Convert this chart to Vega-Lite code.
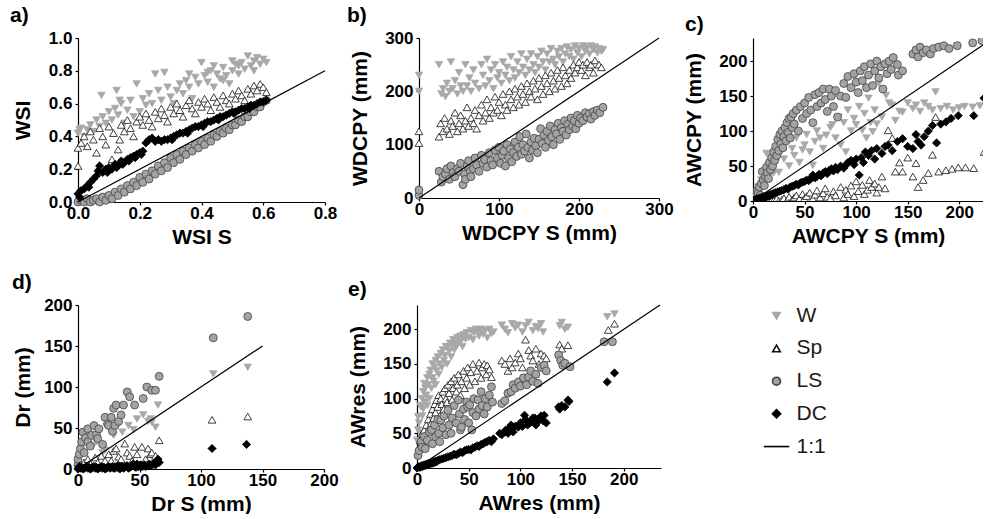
{
"$schema": "https://vega.github.io/schema/vega-lite/v6.json",
"padding": {"left": 10, "top": 5, "right": 0, "bottom": 0},
"config": {
  "view": {"stroke": null},
  "font": "Liberation Sans",
  "axis": {"grid": false, "domainColor": "#000", "domainWidth": 1.2, "tickColor": "#000", "tickWidth": 1.2, "tickSize": 3,
    "labelFont": "Liberation Sans", "labelFontSize": 17, "labelFontWeight": "bold", "labelColor": "#000",
    "titleFont": "Liberation Sans", "titleFontSize": 21, "titleFontWeight": "bold", "titleColor": "#000",
    "labelFlush": false, "labelOverlap": false, "labelBound": false},
  "axisX": {"labelPadding": 0, "titlePadding": 5},
  "axisY": {"labelPadding": 3, "titlePadding": 14},
  "title": {"font": "Liberation Sans", "fontSize": 21, "fontWeight": "bold", "anchor": "start", "frame": "group", "color": "#000", "offset": 3}
},
"datasets": {
"a": [
{"s":"W","x":0,"y":0.42},{"s":"W","x":0.005,"y":0.44},{"s":"W","x":0.01,"y":0.45},{"s":"W","x":0.02,"y":0.4},{"s":"W","x":0.03,"y":0.44},{"s":"W","x":0.04,"y":0.47},{"s":"W","x":0.05,"y":0.43},{"s":"W","x":0.06,"y":0.5},{"s":"W","x":0.07,"y":0.46},{"s":"W","x":0.076,"y":0.65},{"s":"W","x":0.08,"y":0.52},{"s":"W","x":0.09,"y":0.48},{"s":"W","x":0.1,"y":0.55},{"s":"W","x":0.11,"y":0.5},{"s":"W","x":0.12,"y":0.57},{"s":"W","x":0.125,"y":0.68},{"s":"W","x":0.13,"y":0.53},{"s":"W","x":0.135,"y":0.62},{"s":"W","x":0.14,"y":0.6},{"s":"W","x":0.15,"y":0.48},{"s":"W","x":0.16,"y":0.56},{"s":"W","x":0.17,"y":0.62},{"s":"W","x":0.18,"y":0.52},{"s":"W","x":0.19,"y":0.72},{"s":"W","x":0.2,"y":0.55},{"s":"W","x":0.21,"y":0.63},{"s":"W","x":0.22,"y":0.59},{"s":"W","x":0.23,"y":0.66},{"s":"W","x":0.24,"y":0.6},{"s":"W","x":0.25,"y":0.78},{"s":"W","x":0.26,"y":0.68},{"s":"W","x":0.27,"y":0.62},{"s":"W","x":0.28,"y":0.79},{"s":"W","x":0.29,"y":0.7},{"s":"W","x":0.3,"y":0.64},{"s":"W","x":0.31,"y":0.6},{"s":"W","x":0.32,"y":0.68},{"s":"W","x":0.33,"y":0.72},{"s":"W","x":0.34,"y":0.66},{"s":"W","x":0.35,"y":0.74},{"s":"W","x":0.36,"y":0.7},{"s":"W","x":0.36,"y":0.78},{"s":"W","x":0.37,"y":0.63},{"s":"W","x":0.38,"y":0.76},{"s":"W","x":0.39,"y":0.72},{"s":"W","x":0.4,"y":0.85},{"s":"W","x":0.41,"y":0.77},{"s":"W","x":0.42,"y":0.73},{"s":"W","x":0.42,"y":0.79},{"s":"W","x":0.43,"y":0.8},{"s":"W","x":0.44,"y":0.7},{"s":"W","x":0.44,"y":0.83},{"s":"W","x":0.45,"y":0.78},{"s":"W","x":0.46,"y":0.75},{"s":"W","x":0.47,"y":0.82},{"s":"W","x":0.47,"y":0.74},{"s":"W","x":0.48,"y":0.77},{"s":"W","x":0.49,"y":0.72},{"s":"W","x":0.5,"y":0.8},{"s":"W","x":0.5,"y":0.86},{"s":"W","x":0.51,"y":0.84},{"s":"W","x":0.52,"y":0.78},{"s":"W","x":0.52,"y":0.83},{"s":"W","x":0.53,"y":0.85},{"s":"W","x":0.54,"y":0.81},{"s":"W","x":0.55,"y":0.89},{"s":"W","x":0.56,"y":0.83},{"s":"W","x":0.57,"y":0.86},{"s":"W","x":0.57,"y":0.8},{"s":"W","x":0.58,"y":0.88},{"s":"W","x":0.59,"y":0.84},{"s":"W","x":0.6,"y":0.87},{"s":"W","x":0.61,"y":0.85},
{"s":"Sp","x":0,"y":0.22},{"s":"Sp","x":0,"y":0.33},{"s":"Sp","x":0.01,"y":0.36},{"s":"Sp","x":0.02,"y":0.4},{"s":"Sp","x":0.03,"y":0.34},{"s":"Sp","x":0.04,"y":0.43},{"s":"Sp","x":0.05,"y":0.38},{"s":"Sp","x":0.06,"y":0.3},{"s":"Sp","x":0.07,"y":0.45},{"s":"Sp","x":0.08,"y":0.4},{"s":"Sp","x":0.09,"y":0.35},{"s":"Sp","x":0.1,"y":0.46},{"s":"Sp","x":0.11,"y":0.26},{"s":"Sp","x":0.115,"y":0.42},{"s":"Sp","x":0.13,"y":0.32},{"s":"Sp","x":0.135,"y":0.38},{"s":"Sp","x":0.14,"y":0.47},{"s":"Sp","x":0.15,"y":0.43},{"s":"Sp","x":0.16,"y":0.5},{"s":"Sp","x":0.17,"y":0.45},{"s":"Sp","x":0.18,"y":0.4},{"s":"Sp","x":0.19,"y":0.49},{"s":"Sp","x":0.2,"y":0.52},{"s":"Sp","x":0.21,"y":0.47},{"s":"Sp","x":0.22,"y":0.54},{"s":"Sp","x":0.23,"y":0.5},{"s":"Sp","x":0.24,"y":0.46},{"s":"Sp","x":0.25,"y":0.55},{"s":"Sp","x":0.26,"y":0.51},{"s":"Sp","x":0.27,"y":0.57},{"s":"Sp","x":0.28,"y":0.53},{"s":"Sp","x":0.29,"y":0.49},{"s":"Sp","x":0.3,"y":0.58},{"s":"Sp","x":0.31,"y":0.54},{"s":"Sp","x":0.32,"y":0.6},{"s":"Sp","x":0.33,"y":0.56},{"s":"Sp","x":0.34,"y":0.52},{"s":"Sp","x":0.35,"y":0.59},{"s":"Sp","x":0.36,"y":0.62},{"s":"Sp","x":0.37,"y":0.57},{"s":"Sp","x":0.38,"y":0.54},{"s":"Sp","x":0.39,"y":0.61},{"s":"Sp","x":0.4,"y":0.58},{"s":"Sp","x":0.41,"y":0.63},{"s":"Sp","x":0.42,"y":0.6},{"s":"Sp","x":0.43,"y":0.56},{"s":"Sp","x":0.44,"y":0.64},{"s":"Sp","x":0.45,"y":0.61},{"s":"Sp","x":0.46,"y":0.58},{"s":"Sp","x":0.47,"y":0.65},{"s":"Sp","x":0.48,"y":0.62},{"s":"Sp","x":0.49,"y":0.6},{"s":"Sp","x":0.5,"y":0.66},{"s":"Sp","x":0.51,"y":0.63},{"s":"Sp","x":0.52,"y":0.68},{"s":"Sp","x":0.53,"y":0.65},{"s":"Sp","x":0.54,"y":0.62},{"s":"Sp","x":0.55,"y":0.69},{"s":"Sp","x":0.56,"y":0.66},{"s":"Sp","x":0.57,"y":0.71},{"s":"Sp","x":0.58,"y":0.68},{"s":"Sp","x":0.59,"y":0.72},{"s":"Sp","x":0.6,"y":0.7},{"s":"Sp","x":0.61,"y":0.67},
{"s":"LS","x":0,"y":0},{"s":"LS","x":0.01,"y":0.01},{"s":"LS","x":0.02,"y":0},{"s":"LS","x":0.03,"y":0.02},{"s":"LS","x":0.04,"y":0},{"s":"LS","x":0.05,"y":0.01},{"s":"LS","x":0.06,"y":0.02},{"s":"LS","x":0.07,"y":0},{"s":"LS","x":0.08,"y":0.03},{"s":"LS","x":0.09,"y":0.01},{"s":"LS","x":0.1,"y":0.04},{"s":"LS","x":0.11,"y":0.02},{"s":"LS","x":0.12,"y":0.06},{"s":"LS","x":0.13,"y":0.04},{"s":"LS","x":0.14,"y":0.08},{"s":"LS","x":0.15,"y":0.06},{"s":"LS","x":0.16,"y":0.1},{"s":"LS","x":0.17,"y":0.08},{"s":"LS","x":0.18,"y":0.12},{"s":"LS","x":0.19,"y":0.1},{"s":"LS","x":0.2,"y":0.15},{"s":"LS","x":0.21,"y":0.12},{"s":"LS","x":0.22,"y":0.17},{"s":"LS","x":0.23,"y":0.14},{"s":"LS","x":0.24,"y":0.19},{"s":"LS","x":0.25,"y":0.17},{"s":"LS","x":0.26,"y":0.22},{"s":"LS","x":0.27,"y":0.19},{"s":"LS","x":0.28,"y":0.24},{"s":"LS","x":0.29,"y":0.21},{"s":"LS","x":0.3,"y":0.27},{"s":"LS","x":0.31,"y":0.24},{"s":"LS","x":0.32,"y":0.29},{"s":"LS","x":0.33,"y":0.26},{"s":"LS","x":0.34,"y":0.31},{"s":"LS","x":0.35,"y":0.29},{"s":"LS","x":0.36,"y":0.33},{"s":"LS","x":0.37,"y":0.31},{"s":"LS","x":0.38,"y":0.35},{"s":"LS","x":0.39,"y":0.33},{"s":"LS","x":0.4,"y":0.37},{"s":"LS","x":0.41,"y":0.35},{"s":"LS","x":0.42,"y":0.39},{"s":"LS","x":0.43,"y":0.37},{"s":"LS","x":0.44,"y":0.41},{"s":"LS","x":0.45,"y":0.4},{"s":"LS","x":0.46,"y":0.43},{"s":"LS","x":0.47,"y":0.42},{"s":"LS","x":0.48,"y":0.45},{"s":"LS","x":0.49,"y":0.44},{"s":"LS","x":0.5,"y":0.47},{"s":"LS","x":0.51,"y":0.47},{"s":"LS","x":0.52,"y":0.5},{"s":"LS","x":0.53,"y":0.49},{"s":"LS","x":0.54,"y":0.52},{"s":"LS","x":0.55,"y":0.52},{"s":"LS","x":0.56,"y":0.55},{"s":"LS","x":0.57,"y":0.55},{"s":"LS","x":0.58,"y":0.58},{"s":"LS","x":0.59,"y":0.58},{"s":"LS","x":0.6,"y":0.61},{"s":"LS","x":0.61,"y":0.62},
{"s":"DC","x":0,"y":0.05},{"s":"DC","x":0.005,"y":0.03},{"s":"DC","x":0.01,"y":0.07},{"s":"DC","x":0.02,"y":0.08},{"s":"DC","x":0.03,"y":0.1},{"s":"DC","x":0.035,"y":0.09},{"s":"DC","x":0.04,"y":0.12},{"s":"DC","x":0.05,"y":0.14},{"s":"DC","x":0.06,"y":0.16},{"s":"DC","x":0.065,"y":0.19},{"s":"DC","x":0.07,"y":0.22},{"s":"DC","x":0.08,"y":0.18},{"s":"DC","x":0.09,"y":0.2},{"s":"DC","x":0.095,"y":0.18},{"s":"DC","x":0.1,"y":0.21},{"s":"DC","x":0.11,"y":0.2},{"s":"DC","x":0.12,"y":0.23},{"s":"DC","x":0.125,"y":0.21},{"s":"DC","x":0.13,"y":0.22},{"s":"DC","x":0.14,"y":0.25},{"s":"DC","x":0.145,"y":0.23},{"s":"DC","x":0.15,"y":0.24},{"s":"DC","x":0.16,"y":0.26},{"s":"DC","x":0.165,"y":0.25},{"s":"DC","x":0.17,"y":0.27},{"s":"DC","x":0.18,"y":0.28},{"s":"DC","x":0.185,"y":0.27},{"s":"DC","x":0.19,"y":0.29},{"s":"DC","x":0.2,"y":0.3},{"s":"DC","x":0.205,"y":0.29},{"s":"DC","x":0.21,"y":0.31},{"s":"DC","x":0.22,"y":0.36},{"s":"DC","x":0.23,"y":0.38},{"s":"DC","x":0.24,"y":0.39},{"s":"DC","x":0.25,"y":0.37},{"s":"DC","x":0.26,"y":0.38},{"s":"DC","x":0.27,"y":0.37},{"s":"DC","x":0.28,"y":0.38},{"s":"DC","x":0.29,"y":0.38},{"s":"DC","x":0.3,"y":0.39},{"s":"DC","x":0.305,"y":0.38},{"s":"DC","x":0.31,"y":0.4},{"s":"DC","x":0.32,"y":0.41},{"s":"DC","x":0.33,"y":0.42},{"s":"DC","x":0.34,"y":0.42},{"s":"DC","x":0.35,"y":0.43},{"s":"DC","x":0.355,"y":0.42},{"s":"DC","x":0.36,"y":0.44},{"s":"DC","x":0.37,"y":0.45},{"s":"DC","x":0.38,"y":0.46},{"s":"DC","x":0.39,"y":0.46},{"s":"DC","x":0.4,"y":0.47},{"s":"DC","x":0.405,"y":0.46},{"s":"DC","x":0.41,"y":0.48},{"s":"DC","x":0.42,"y":0.49},{"s":"DC","x":0.43,"y":0.49},{"s":"DC","x":0.44,"y":0.5},{"s":"DC","x":0.45,"y":0.51},{"s":"DC","x":0.455,"y":0.5},{"s":"DC","x":0.46,"y":0.52},{"s":"DC","x":0.47,"y":0.52},{"s":"DC","x":0.48,"y":0.53},{"s":"DC","x":0.49,"y":0.54},{"s":"DC","x":0.5,"y":0.55},{"s":"DC","x":0.505,"y":0.54},{"s":"DC","x":0.51,"y":0.55},{"s":"DC","x":0.52,"y":0.56},{"s":"DC","x":0.53,"y":0.57},{"s":"DC","x":0.54,"y":0.57},{"s":"DC","x":0.55,"y":0.58},{"s":"DC","x":0.555,"y":0.57},{"s":"DC","x":0.56,"y":0.59},{"s":"DC","x":0.57,"y":0.59},{"s":"DC","x":0.58,"y":0.6},{"s":"DC","x":0.59,"y":0.61},{"s":"DC","x":0.6,"y":0.61},{"s":"DC","x":0.61,"y":0.62}
],
"b": [
{"s":"W","x":0,"y":200},{"s":"W","x":0,"y":230},{"s":"W","x":25,"y":250},{"s":"W","x":28,"y":195},{"s":"W","x":30,"y":205},{"s":"W","x":33,"y":190},{"s":"W","x":35,"y":215},{"s":"W","x":38,"y":200},{"s":"W","x":40,"y":255},{"s":"W","x":42,"y":205},{"s":"W","x":45,"y":220},{"s":"W","x":48,"y":195},{"s":"W","x":50,"y":235},{"s":"W","x":52,"y":210},{"s":"W","x":55,"y":200},{"s":"W","x":58,"y":250},{"s":"W","x":60,"y":210},{"s":"W","x":63,"y":225},{"s":"W","x":65,"y":200},{"s":"W","x":68,"y":240},{"s":"W","x":70,"y":215},{"s":"W","x":75,"y":205},{"s":"W","x":78,"y":250},{"s":"W","x":80,"y":230},{"s":"W","x":83,"y":210},{"s":"W","x":85,"y":260},{"s":"W","x":88,"y":220},{"s":"W","x":90,"y":240},{"s":"W","x":93,"y":205},{"s":"W","x":95,"y":250},{"s":"W","x":98,"y":225},{"s":"W","x":100,"y":235},{"s":"W","x":103,"y":215},{"s":"W","x":105,"y":255},{"s":"W","x":108,"y":230},{"s":"W","x":110,"y":245},{"s":"W","x":113,"y":220},{"s":"W","x":115,"y":265},{"s":"W","x":118,"y":240},{"s":"W","x":120,"y":225},{"s":"W","x":123,"y":255},{"s":"W","x":125,"y":235},{"s":"W","x":128,"y":270},{"s":"W","x":130,"y":245},{"s":"W","x":133,"y":230},{"s":"W","x":135,"y":260},{"s":"W","x":138,"y":240},{"s":"W","x":140,"y":270},{"s":"W","x":143,"y":250},{"s":"W","x":145,"y":235},{"s":"W","x":148,"y":265},{"s":"W","x":150,"y":245},{"s":"W","x":153,"y":275},{"s":"W","x":155,"y":255},{"s":"W","x":158,"y":240},{"s":"W","x":160,"y":270},{"s":"W","x":163,"y":255},{"s":"W","x":165,"y":280},{"s":"W","x":168,"y":260},{"s":"W","x":170,"y":250},{"s":"W","x":173,"y":275},{"s":"W","x":175,"y":265},{"s":"W","x":178,"y":280},{"s":"W","x":180,"y":255},{"s":"W","x":183,"y":270},{"s":"W","x":185,"y":283},{"s":"W","x":188,"y":265},{"s":"W","x":190,"y":278},{"s":"W","x":193,"y":260},{"s":"W","x":195,"y":285},{"s":"W","x":198,"y":272},{"s":"W","x":200,"y":280},{"s":"W","x":203,"y":265},{"s":"W","x":205,"y":285},{"s":"W","x":208,"y":275},{"s":"W","x":210,"y":282},{"s":"W","x":213,"y":270},{"s":"W","x":215,"y":285},{"s":"W","x":218,"y":278},{"s":"W","x":220,"y":283},{"s":"W","x":223,"y":272},{"s":"W","x":225,"y":280},{"s":"W","x":228,"y":275},{"s":"W","x":230,"y":278},
{"s":"Sp","x":0,"y":103},{"s":"Sp","x":0,"y":125},{"s":"Sp","x":25,"y":115},{"s":"Sp","x":27,"y":140},{"s":"Sp","x":30,"y":125},{"s":"Sp","x":32,"y":150},{"s":"Sp","x":35,"y":130},{"s":"Sp","x":38,"y":120},{"s":"Sp","x":40,"y":145},{"s":"Sp","x":42,"y":135},{"s":"Sp","x":45,"y":160},{"s":"Sp","x":48,"y":125},{"s":"Sp","x":50,"y":140},{"s":"Sp","x":52,"y":155},{"s":"Sp","x":55,"y":130},{"s":"Sp","x":58,"y":145},{"s":"Sp","x":60,"y":170},{"s":"Sp","x":62,"y":135},{"s":"Sp","x":65,"y":150},{"s":"Sp","x":68,"y":140},{"s":"Sp","x":70,"y":165},{"s":"Sp","x":72,"y":130},{"s":"Sp","x":75,"y":155},{"s":"Sp","x":78,"y":175},{"s":"Sp","x":80,"y":145},{"s":"Sp","x":83,"y":160},{"s":"Sp","x":85,"y":185},{"s":"Sp","x":88,"y":150},{"s":"Sp","x":90,"y":170},{"s":"Sp","x":93,"y":160},{"s":"Sp","x":95,"y":190},{"s":"Sp","x":98,"y":165},{"s":"Sp","x":100,"y":180},{"s":"Sp","x":103,"y":155},{"s":"Sp","x":105,"y":195},{"s":"Sp","x":108,"y":175},{"s":"Sp","x":110,"y":165},{"s":"Sp","x":113,"y":200},{"s":"Sp","x":115,"y":185},{"s":"Sp","x":118,"y":170},{"s":"Sp","x":120,"y":205},{"s":"Sp","x":123,"y":190},{"s":"Sp","x":125,"y":175},{"s":"Sp","x":128,"y":210},{"s":"Sp","x":130,"y":195},{"s":"Sp","x":133,"y":180},{"s":"Sp","x":135,"y":215},{"s":"Sp","x":138,"y":200},{"s":"Sp","x":140,"y":190},{"s":"Sp","x":143,"y":220},{"s":"Sp","x":145,"y":205},{"s":"Sp","x":148,"y":185},{"s":"Sp","x":150,"y":225},{"s":"Sp","x":153,"y":210},{"s":"Sp","x":155,"y":195},{"s":"Sp","x":158,"y":230},{"s":"Sp","x":160,"y":215},{"s":"Sp","x":163,"y":200},{"s":"Sp","x":165,"y":235},{"s":"Sp","x":168,"y":220},{"s":"Sp","x":170,"y":205},{"s":"Sp","x":173,"y":240},{"s":"Sp","x":175,"y":225},{"s":"Sp","x":178,"y":210},{"s":"Sp","x":180,"y":245},{"s":"Sp","x":183,"y":230},{"s":"Sp","x":185,"y":215},{"s":"Sp","x":188,"y":240},{"s":"Sp","x":190,"y":225},{"s":"Sp","x":193,"y":250},{"s":"Sp","x":195,"y":235},{"s":"Sp","x":198,"y":245},{"s":"Sp","x":200,"y":255},{"s":"Sp","x":203,"y":240},{"s":"Sp","x":205,"y":250},{"s":"Sp","x":208,"y":230},{"s":"Sp","x":210,"y":255},{"s":"Sp","x":213,"y":245},{"s":"Sp","x":215,"y":250},{"s":"Sp","x":218,"y":235},{"s":"Sp","x":220,"y":258},{"s":"Sp","x":225,"y":250},{"s":"Sp","x":228,"y":245},
{"s":"LS","x":0,"y":5},{"s":"LS","x":0,"y":15},{"s":"LS","x":25,"y":50},{"s":"LS","x":28,"y":30},{"s":"LS","x":30,"y":40},{"s":"LS","x":33,"y":45},{"s":"LS","x":35,"y":55},{"s":"LS","x":38,"y":35},{"s":"LS","x":40,"y":60},{"s":"LS","x":43,"y":48},{"s":"LS","x":45,"y":40},{"s":"LS","x":48,"y":55},{"s":"LS","x":50,"y":50},{"s":"LS","x":52,"y":65},{"s":"LS","x":55,"y":25},{"s":"LS","x":57,"y":45},{"s":"LS","x":58,"y":35},{"s":"LS","x":60,"y":60},{"s":"LS","x":62,"y":70},{"s":"LS","x":64,"y":50},{"s":"LS","x":65,"y":40},{"s":"LS","x":68,"y":55},{"s":"LS","x":70,"y":75},{"s":"LS","x":72,"y":62},{"s":"LS","x":75,"y":50},{"s":"LS","x":78,"y":80},{"s":"LS","x":80,"y":65},{"s":"LS","x":82,"y":72},{"s":"LS","x":85,"y":58},{"s":"LS","x":88,"y":85},{"s":"LS","x":90,"y":70},{"s":"LS","x":92,"y":62},{"s":"LS","x":95,"y":90},{"s":"LS","x":98,"y":75},{"s":"LS","x":100,"y":95},{"s":"LS","x":102,"y":65},{"s":"LS","x":104,"y":80},{"s":"LS","x":106,"y":88},{"s":"LS","x":108,"y":60},{"s":"LS","x":110,"y":100},{"s":"LS","x":112,"y":75},{"s":"LS","x":114,"y":92},{"s":"LS","x":116,"y":68},{"s":"LS","x":118,"y":85},{"s":"LS","x":120,"y":105},{"s":"LS","x":122,"y":78},{"s":"LS","x":124,"y":95},{"s":"LS","x":126,"y":115},{"s":"LS","x":128,"y":82},{"s":"LS","x":130,"y":100},{"s":"LS","x":132,"y":88},{"s":"LS","x":134,"y":120},{"s":"LS","x":136,"y":95},{"s":"LS","x":138,"y":75},{"s":"LS","x":140,"y":105},{"s":"LS","x":142,"y":90},{"s":"LS","x":144,"y":112},{"s":"LS","x":146,"y":98},{"s":"LS","x":148,"y":85},{"s":"LS","x":150,"y":110},{"s":"LS","x":152,"y":130},{"s":"LS","x":154,"y":102},{"s":"LS","x":156,"y":118},{"s":"LS","x":158,"y":95},{"s":"LS","x":160,"y":125},{"s":"LS","x":162,"y":108},{"s":"LS","x":164,"y":135},{"s":"LS","x":166,"y":115},{"s":"LS","x":168,"y":100},{"s":"LS","x":170,"y":128},{"s":"LS","x":172,"y":120},{"s":"LS","x":174,"y":140},{"s":"LS","x":176,"y":110},{"s":"LS","x":178,"y":132},{"s":"LS","x":180,"y":125},{"s":"LS","x":182,"y":145},{"s":"LS","x":184,"y":118},{"s":"LS","x":186,"y":138},{"s":"LS","x":188,"y":128},{"s":"LS","x":190,"y":150},{"s":"LS","x":192,"y":135},{"s":"LS","x":194,"y":145},{"s":"LS","x":196,"y":130},{"s":"LS","x":198,"y":155},{"s":"LS","x":200,"y":140},{"s":"LS","x":202,"y":150},{"s":"LS","x":205,"y":145},{"s":"LS","x":208,"y":160},{"s":"LS","x":210,"y":152},{"s":"LS","x":213,"y":158},{"s":"LS","x":215,"y":148},{"s":"LS","x":218,"y":162},{"s":"LS","x":220,"y":155},{"s":"LS","x":223,"y":165},{"s":"LS","x":226,"y":160},{"s":"LS","x":230,"y":170}
],
"c": [
{"s":"W","x":3,"y":10},{"s":"W","x":5,"y":20},{"s":"W","x":7,"y":15},{"s":"W","x":8,"y":30},{"s":"W","x":10,"y":25},{"s":"W","x":12,"y":40},{"s":"W","x":13,"y":68},{"s":"W","x":14,"y":35},{"s":"W","x":15,"y":50},{"s":"W","x":17,"y":45},{"s":"W","x":18,"y":60},{"s":"W","x":20,"y":40},{"s":"W","x":22,"y":55},{"s":"W","x":24,"y":65},{"s":"W","x":25,"y":41},{"s":"W","x":27,"y":70},{"s":"W","x":30,"y":60},{"s":"W","x":32,"y":85},{"s":"W","x":35,"y":50},{"s":"W","x":38,"y":75},{"s":"W","x":40,"y":65},{"s":"W","x":42,"y":90},{"s":"W","x":45,"y":55},{"s":"W","x":48,"y":73},{"s":"W","x":50,"y":80},{"s":"W","x":52,"y":95},{"s":"W","x":55,"y":70},{"s":"W","x":58,"y":51},{"s":"W","x":60,"y":85},{"s":"W","x":62,"y":100},{"s":"W","x":65,"y":90},{"s":"W","x":68,"y":75},{"s":"W","x":71,"y":94},{"s":"W","x":75,"y":105},{"s":"W","x":77,"y":109},{"s":"W","x":80,"y":90},{"s":"W","x":83,"y":120},{"s":"W","x":85,"y":80},{"s":"W","x":88,"y":112},{"s":"W","x":90,"y":70},{"s":"W","x":92,"y":130},{"s":"W","x":95,"y":100},{"s":"W","x":98,"y":118},{"s":"W","x":100,"y":109},{"s":"W","x":103,"y":135},{"s":"W","x":106,"y":101},{"s":"W","x":108,"y":125},{"s":"W","x":110,"y":90},{"s":"W","x":112,"y":147},{"s":"W","x":114,"y":112},{"s":"W","x":116,"y":99},{"s":"W","x":118,"y":130},{"s":"W","x":120,"y":110},{"s":"W","x":122,"y":168},{"s":"W","x":125,"y":120},{"s":"W","x":129,"y":151},{"s":"W","x":132,"y":140},{"s":"W","x":135,"y":137},{"s":"W","x":138,"y":115},{"s":"W","x":142,"y":128},{"s":"W","x":145,"y":127},{"s":"W","x":150,"y":140},{"s":"W","x":155,"y":132},{"s":"W","x":158,"y":137},{"s":"W","x":162,"y":128},{"s":"W","x":166,"y":140},{"s":"W","x":170,"y":135},{"s":"W","x":174,"y":130},{"s":"W","x":177,"y":156},{"s":"W","x":182,"y":132},{"s":"W","x":188,"y":135},{"s":"W","x":194,"y":130},{"s":"W","x":200,"y":133},{"s":"W","x":205,"y":135},{"s":"W","x":213,"y":134},{"s":"W","x":220,"y":136},
{"s":"Sp","x":5,"y":0},{"s":"Sp","x":10,"y":1},{"s":"Sp","x":15,"y":0},{"s":"Sp","x":18,"y":2},{"s":"Sp","x":20,"y":1},{"s":"Sp","x":23,"y":3},{"s":"Sp","x":25,"y":0},{"s":"Sp","x":28,"y":2},{"s":"Sp","x":30,"y":4},{"s":"Sp","x":33,"y":1},{"s":"Sp","x":35,"y":6},{"s":"Sp","x":38,"y":2},{"s":"Sp","x":40,"y":5},{"s":"Sp","x":42,"y":8},{"s":"Sp","x":45,"y":3},{"s":"Sp","x":48,"y":10},{"s":"Sp","x":50,"y":4},{"s":"Sp","x":52,"y":7},{"s":"Sp","x":55,"y":12},{"s":"Sp","x":58,"y":3},{"s":"Sp","x":60,"y":9},{"s":"Sp","x":62,"y":15},{"s":"Sp","x":65,"y":5},{"s":"Sp","x":68,"y":11},{"s":"Sp","x":70,"y":18},{"s":"Sp","x":72,"y":6},{"s":"Sp","x":75,"y":4},{"s":"Sp","x":78,"y":14},{"s":"Sp","x":80,"y":8},{"s":"Sp","x":85,"y":20},{"s":"Sp","x":88,"y":5},{"s":"Sp","x":90,"y":16},{"s":"Sp","x":92,"y":10},{"s":"Sp","x":95,"y":22},{"s":"Sp","x":98,"y":7},{"s":"Sp","x":100,"y":28},{"s":"Sp","x":102,"y":14},{"s":"Sp","x":106,"y":23},{"s":"Sp","x":108,"y":10},{"s":"Sp","x":111,"y":16},{"s":"Sp","x":113,"y":30},{"s":"Sp","x":115,"y":20},{"s":"Sp","x":118,"y":25},{"s":"Sp","x":120,"y":12},{"s":"Sp","x":122,"y":20},{"s":"Sp","x":125,"y":35},{"s":"Sp","x":128,"y":18},{"s":"Sp","x":131,"y":101},{"s":"Sp","x":135,"y":90},{"s":"Sp","x":138,"y":42},{"s":"Sp","x":142,"y":55},{"s":"Sp","x":145,"y":42},{"s":"Sp","x":150,"y":62},{"s":"Sp","x":155,"y":35},{"s":"Sp","x":158,"y":54},{"s":"Sp","x":160,"y":20},{"s":"Sp","x":165,"y":30},{"s":"Sp","x":170,"y":40},{"s":"Sp","x":174,"y":66},{"s":"Sp","x":177,"y":120},{"s":"Sp","x":180,"y":42},{"s":"Sp","x":187,"y":44},{"s":"Sp","x":193,"y":46},{"s":"Sp","x":199,"y":48},{"s":"Sp","x":206,"y":48},{"s":"Sp","x":214,"y":47},{"s":"Sp","x":224,"y":70},
{"s":"LS","x":0,"y":2},{"s":"LS","x":1,"y":5},{"s":"LS","x":2,"y":10},{"s":"LS","x":3,"y":6},{"s":"LS","x":4,"y":15},{"s":"LS","x":5,"y":12},{"s":"LS","x":6,"y":20},{"s":"LS","x":7,"y":8},{"s":"LS","x":8,"y":25},{"s":"LS","x":9,"y":42},{"s":"LS","x":10,"y":30},{"s":"LS","x":11,"y":22},{"s":"LS","x":12,"y":35},{"s":"LS","x":13,"y":48},{"s":"LS","x":14,"y":40},{"s":"LS","x":15,"y":32},{"s":"LS","x":16,"y":55},{"s":"LS","x":17,"y":45},{"s":"LS","x":18,"y":62},{"s":"LS","x":19,"y":50},{"s":"LS","x":20,"y":70},{"s":"LS","x":21,"y":58},{"s":"LS","x":22,"y":78},{"s":"LS","x":23,"y":65},{"s":"LS","x":24,"y":88},{"s":"LS","x":25,"y":72},{"s":"LS","x":26,"y":95},{"s":"LS","x":27,"y":82},{"s":"LS","x":28,"y":100},{"s":"LS","x":29,"y":76},{"s":"LS","x":30,"y":92},{"s":"LS","x":31,"y":105},{"s":"LS","x":32,"y":86},{"s":"LS","x":33,"y":112},{"s":"LS","x":34,"y":98},{"s":"LS","x":35,"y":118},{"s":"LS","x":36,"y":90},{"s":"LS","x":37,"y":120},{"s":"LS","x":38,"y":105},{"s":"LS","x":39,"y":125},{"s":"LS","x":40,"y":110},{"s":"LS","x":42,"y":130},{"s":"LS","x":44,"y":100},{"s":"LS","x":46,"y":135},{"s":"LS","x":48,"y":118},{"s":"LS","x":50,"y":140},{"s":"LS","x":52,"y":125},{"s":"LS","x":54,"y":148},{"s":"LS","x":56,"y":130},{"s":"LS","x":58,"y":112},{"s":"LS","x":60,"y":152},{"s":"LS","x":62,"y":135},{"s":"LS","x":64,"y":155},{"s":"LS","x":66,"y":140},{"s":"LS","x":68,"y":160},{"s":"LS","x":70,"y":145},{"s":"LS","x":72,"y":128},{"s":"LS","x":74,"y":160},{"s":"LS","x":76,"y":150},{"s":"LS","x":78,"y":135},{"s":"LS","x":80,"y":158},{"s":"LS","x":82,"y":120},{"s":"LS","x":85,"y":150},{"s":"LS","x":88,"y":168},{"s":"LS","x":90,"y":148},{"s":"LS","x":92,"y":178},{"s":"LS","x":95,"y":162},{"s":"LS","x":98,"y":182},{"s":"LS","x":100,"y":170},{"s":"LS","x":102,"y":155},{"s":"LS","x":104,"y":186},{"s":"LS","x":106,"y":172},{"s":"LS","x":108,"y":192},{"s":"LS","x":110,"y":162},{"s":"LS","x":112,"y":180},{"s":"LS","x":114,"y":196},{"s":"LS","x":116,"y":165},{"s":"LS","x":118,"y":186},{"s":"LS","x":120,"y":200},{"s":"LS","x":122,"y":176},{"s":"LS","x":124,"y":192},{"s":"LS","x":126,"y":160},{"s":"LS","x":128,"y":196},{"s":"LS","x":130,"y":182},{"s":"LS","x":132,"y":200},{"s":"LS","x":134,"y":188},{"s":"LS","x":136,"y":205},{"s":"LS","x":140,"y":195},{"s":"LS","x":141,"y":180},{"s":"LS","x":145,"y":186},{"s":"LS","x":155,"y":210},{"s":"LS","x":158,"y":216},{"s":"LS","x":160,"y":206},{"s":"LS","x":162,"y":220},{"s":"LS","x":165,"y":212},{"s":"LS","x":168,"y":216},{"s":"LS","x":172,"y":210},{"s":"LS","x":175,"y":218},{"s":"LS","x":180,"y":220},{"s":"LS","x":185,"y":222},{"s":"LS","x":190,"y":218},{"s":"LS","x":198,"y":222},{"s":"LS","x":213,"y":226},{"s":"LS","x":222,"y":229},
{"s":"DC","x":0,"y":0},{"s":"DC","x":1,"y":1},{"s":"DC","x":2,"y":2},{"s":"DC","x":3,"y":1},{"s":"DC","x":4,"y":3},{"s":"DC","x":5,"y":2},{"s":"DC","x":6,"y":4},{"s":"DC","x":7,"y":3},{"s":"DC","x":8,"y":5},{"s":"DC","x":9,"y":4},{"s":"DC","x":10,"y":6},{"s":"DC","x":11,"y":5},{"s":"DC","x":12,"y":7},{"s":"DC","x":13,"y":6},{"s":"DC","x":14,"y":8},{"s":"DC","x":15,"y":7},{"s":"DC","x":16,"y":9},{"s":"DC","x":17,"y":8},{"s":"DC","x":18,"y":10},{"s":"DC","x":19,"y":9},{"s":"DC","x":20,"y":11},{"s":"DC","x":22,"y":12},{"s":"DC","x":24,"y":13},{"s":"DC","x":26,"y":14},{"s":"DC","x":28,"y":15},{"s":"DC","x":30,"y":16},{"s":"DC","x":32,"y":18},{"s":"DC","x":34,"y":17},{"s":"DC","x":36,"y":20},{"s":"DC","x":38,"y":21},{"s":"DC","x":40,"y":22},{"s":"DC","x":42,"y":24},{"s":"DC","x":44,"y":23},{"s":"DC","x":46,"y":26},{"s":"DC","x":48,"y":27},{"s":"DC","x":50,"y":28},{"s":"DC","x":52,"y":30},{"s":"DC","x":54,"y":29},{"s":"DC","x":56,"y":32},{"s":"DC","x":58,"y":37},{"s":"DC","x":60,"y":33},{"s":"DC","x":62,"y":35},{"s":"DC","x":64,"y":38},{"s":"DC","x":66,"y":36},{"s":"DC","x":68,"y":40},{"s":"DC","x":70,"y":42},{"s":"DC","x":72,"y":39},{"s":"DC","x":74,"y":44},{"s":"DC","x":76,"y":46},{"s":"DC","x":78,"y":43},{"s":"DC","x":80,"y":48},{"s":"DC","x":82,"y":45},{"s":"DC","x":85,"y":50},{"s":"DC","x":88,"y":47},{"s":"DC","x":90,"y":51},{"s":"DC","x":92,"y":55},{"s":"DC","x":95,"y":58},{"s":"DC","x":98,"y":52},{"s":"DC","x":100,"y":60},{"s":"DC","x":103,"y":37},{"s":"DC","x":105,"y":62},{"s":"DC","x":107,"y":55},{"s":"DC","x":109,"y":70},{"s":"DC","x":112,"y":65},{"s":"DC","x":115,"y":72},{"s":"DC","x":118,"y":60},{"s":"DC","x":120,"y":75},{"s":"DC","x":125,"y":68},{"s":"DC","x":128,"y":78},{"s":"DC","x":131,"y":80},{"s":"DC","x":135,"y":72},{"s":"DC","x":140,"y":85},{"s":"DC","x":145,"y":89},{"s":"DC","x":150,"y":78},{"s":"DC","x":155,"y":75},{"s":"DC","x":158,"y":95},{"s":"DC","x":160,"y":85},{"s":"DC","x":163,"y":80},{"s":"DC","x":166,"y":92},{"s":"DC","x":170,"y":100},{"s":"DC","x":174,"y":108},{"s":"DC","x":178,"y":83},{"s":"DC","x":182,"y":110},{"s":"DC","x":187,"y":113},{"s":"DC","x":192,"y":118},{"s":"DC","x":199,"y":122},{"s":"DC","x":214,"y":122},{"s":"DC","x":224,"y":147}
],
"d": [
{"s":"W","x":12,"y":28},{"s":"W","x":15,"y":33},{"s":"W","x":20,"y":20},{"s":"W","x":22,"y":23},{"s":"W","x":26,"y":49},{"s":"W","x":29,"y":41},{"s":"W","x":33,"y":55},{"s":"W","x":36,"y":45},{"s":"W","x":41,"y":53},{"s":"W","x":45,"y":48},{"s":"W","x":48,"y":61},{"s":"W","x":53,"y":66},{"s":"W","x":57,"y":58},{"s":"W","x":59,"y":61},{"s":"W","x":60,"y":57},{"s":"W","x":63,"y":51},{"s":"W","x":65,"y":78},{"s":"W","x":110,"y":116},{"s":"W","x":138,"y":124},
{"s":"Sp","x":3,"y":5},{"s":"Sp","x":5,"y":8},{"s":"Sp","x":8,"y":12},{"s":"Sp","x":10,"y":6},{"s":"Sp","x":14,"y":14},{"s":"Sp","x":16,"y":8},{"s":"Sp","x":19,"y":16},{"s":"Sp","x":22,"y":10},{"s":"Sp","x":25,"y":18},{"s":"Sp","x":27,"y":10},{"s":"Sp","x":29,"y":22},{"s":"Sp","x":31,"y":25},{"s":"Sp","x":33,"y":15},{"s":"Sp","x":35,"y":12},{"s":"Sp","x":38,"y":31},{"s":"Sp","x":40,"y":20},{"s":"Sp","x":42,"y":16},{"s":"Sp","x":44,"y":10},{"s":"Sp","x":46,"y":27},{"s":"Sp","x":48,"y":18},{"s":"Sp","x":52,"y":27},{"s":"Sp","x":55,"y":12},{"s":"Sp","x":57,"y":25},{"s":"Sp","x":59,"y":18},{"s":"Sp","x":60,"y":20},{"s":"Sp","x":63,"y":16},{"s":"Sp","x":66,"y":35},{"s":"Sp","x":109,"y":60},{"s":"Sp","x":138,"y":64},
{"s":"LS","x":0,"y":5},{"s":"LS","x":0,"y":12},{"s":"LS","x":1,"y":18},{"s":"LS","x":2,"y":25},{"s":"LS","x":3,"y":33},{"s":"LS","x":4,"y":45},{"s":"LS","x":5,"y":20},{"s":"LS","x":6,"y":38},{"s":"LS","x":8,"y":49},{"s":"LS","x":8,"y":33},{"s":"LS","x":10,"y":28},{"s":"LS","x":11,"y":41},{"s":"LS","x":13,"y":53},{"s":"LS","x":15,"y":42},{"s":"LS","x":16,"y":37},{"s":"LS","x":17,"y":49},{"s":"LS","x":20,"y":30},{"s":"LS","x":22,"y":63},{"s":"LS","x":24,"y":55},{"s":"LS","x":25,"y":53},{"s":"LS","x":27,"y":63},{"s":"LS","x":28,"y":46},{"s":"LS","x":29,"y":74},{"s":"LS","x":30,"y":53},{"s":"LS","x":31,"y":78},{"s":"LS","x":33,"y":58},{"s":"LS","x":35,"y":66},{"s":"LS","x":37,"y":78},{"s":"LS","x":40,"y":94},{"s":"LS","x":42,"y":88},{"s":"LS","x":46,"y":78},{"s":"LS","x":53,"y":86},{"s":"LS","x":56,"y":100},{"s":"LS","x":60,"y":96},{"s":"LS","x":63,"y":96},{"s":"LS","x":66,"y":113},{"s":"LS","x":110,"y":160},{"s":"LS","x":138,"y":186},
{"s":"DC","x":0,"y":0},{"s":"DC","x":1,"y":3},{"s":"DC","x":2,"y":1},{"s":"DC","x":3,"y":2},{"s":"DC","x":4,"y":0},{"s":"DC","x":5,"y":1},{"s":"DC","x":6,"y":2},{"s":"DC","x":7,"y":3},{"s":"DC","x":8,"y":1},{"s":"DC","x":9,"y":2},{"s":"DC","x":10,"y":0},{"s":"DC","x":11,"y":1},{"s":"DC","x":12,"y":2},{"s":"DC","x":13,"y":3},{"s":"DC","x":14,"y":1},{"s":"DC","x":15,"y":2},{"s":"DC","x":16,"y":0},{"s":"DC","x":17,"y":1},{"s":"DC","x":18,"y":2},{"s":"DC","x":19,"y":3},{"s":"DC","x":20,"y":1},{"s":"DC","x":21,"y":2},{"s":"DC","x":22,"y":0},{"s":"DC","x":23,"y":1},{"s":"DC","x":24,"y":2},{"s":"DC","x":25,"y":3},{"s":"DC","x":26,"y":1},{"s":"DC","x":27,"y":2},{"s":"DC","x":28,"y":3},{"s":"DC","x":29,"y":1},{"s":"DC","x":30,"y":1},{"s":"DC","x":31,"y":3},{"s":"DC","x":32,"y":2},{"s":"DC","x":33,"y":4},{"s":"DC","x":34,"y":0},{"s":"DC","x":35,"y":2},{"s":"DC","x":36,"y":3},{"s":"DC","x":37,"y":1},{"s":"DC","x":38,"y":2},{"s":"DC","x":39,"y":3},{"s":"DC","x":40,"y":4},{"s":"DC","x":41,"y":1},{"s":"DC","x":42,"y":2},{"s":"DC","x":43,"y":3},{"s":"DC","x":44,"y":5},{"s":"DC","x":45,"y":6},{"s":"DC","x":46,"y":3},{"s":"DC","x":47,"y":2},{"s":"DC","x":48,"y":6},{"s":"DC","x":49,"y":3},{"s":"DC","x":50,"y":4},{"s":"DC","x":51,"y":5},{"s":"DC","x":52,"y":3},{"s":"DC","x":53,"y":4},{"s":"DC","x":54,"y":5},{"s":"DC","x":55,"y":3},{"s":"DC","x":56,"y":4},{"s":"DC","x":57,"y":5},{"s":"DC","x":58,"y":6},{"s":"DC","x":59,"y":4},{"s":"DC","x":60,"y":5},{"s":"DC","x":61,"y":6},{"s":"DC","x":62,"y":7},{"s":"DC","x":63,"y":5},{"s":"DC","x":64,"y":9},{"s":"DC","x":65,"y":12},{"s":"DC","x":66,"y":8},{"s":"DC","x":109,"y":25},{"s":"DC","x":137,"y":30}
],
"e": [
{"s":"W","x":0,"y":40},{"s":"W","x":1,"y":55},{"s":"W","x":1,"y":74},{"s":"W","x":2,"y":65},{"s":"W","x":3,"y":90},{"s":"W","x":3,"y":50},{"s":"W","x":4,"y":88},{"s":"W","x":5,"y":75},{"s":"W","x":5,"y":100},{"s":"W","x":6,"y":110},{"s":"W","x":6,"y":85},{"s":"W","x":7,"y":122},{"s":"W","x":8,"y":95},{"s":"W","x":8,"y":115},{"s":"W","x":9,"y":105},{"s":"W","x":10,"y":130},{"s":"W","x":10,"y":90},{"s":"W","x":11,"y":120},{"s":"W","x":12,"y":135},{"s":"W","x":12,"y":100},{"s":"W","x":13,"y":141},{"s":"W","x":14,"y":115},{"s":"W","x":15,"y":130},{"s":"W","x":15,"y":150},{"s":"W","x":16,"y":125},{"s":"W","x":17,"y":145},{"s":"W","x":18,"y":155},{"s":"W","x":18,"y":120},{"s":"W","x":19,"y":140},{"s":"W","x":20,"y":160},{"s":"W","x":21,"y":135},{"s":"W","x":22,"y":150},{"s":"W","x":23,"y":165},{"s":"W","x":24,"y":145},{"s":"W","x":25,"y":170},{"s":"W","x":26,"y":155},{"s":"W","x":27,"y":162},{"s":"W","x":28,"y":175},{"s":"W","x":29,"y":150},{"s":"W","x":30,"y":175},{"s":"W","x":31,"y":168},{"s":"W","x":32,"y":180},{"s":"W","x":33,"y":160},{"s":"W","x":34,"y":178},{"s":"W","x":35,"y":185},{"s":"W","x":36,"y":170},{"s":"W","x":37,"y":182},{"s":"W","x":38,"y":175},{"s":"W","x":39,"y":188},{"s":"W","x":40,"y":180},{"s":"W","x":42,"y":190},{"s":"W","x":43,"y":184},{"s":"W","x":44,"y":175},{"s":"W","x":45,"y":192},{"s":"W","x":47,"y":186},{"s":"W","x":48,"y":195},{"s":"W","x":50,"y":188},{"s":"W","x":52,"y":198},{"s":"W","x":54,"y":185},{"s":"W","x":55,"y":195},{"s":"W","x":57,"y":200},{"s":"W","x":59,"y":196},{"s":"W","x":60,"y":190},{"s":"W","x":62,"y":200},{"s":"W","x":64,"y":193},{"s":"W","x":66,"y":198},{"s":"W","x":68,"y":188},{"s":"W","x":70,"y":200},{"s":"W","x":72,"y":194},{"s":"W","x":74,"y":196},{"s":"W","x":82,"y":206},{"s":"W","x":85,"y":200},{"s":"W","x":88,"y":195},{"s":"W","x":92,"y":208},{"s":"W","x":95,"y":202},{"s":"W","x":98,"y":206},{"s":"W","x":102,"y":196},{"s":"W","x":105,"y":205},{"s":"W","x":108,"y":210},{"s":"W","x":112,"y":198},{"s":"W","x":115,"y":204},{"s":"W","x":117,"y":201},{"s":"W","x":120,"y":208},{"s":"W","x":122,"y":196},{"s":"W","x":138,"y":205},{"s":"W","x":140,"y":210},{"s":"W","x":143,"y":200},{"s":"W","x":146,"y":203},{"s":"W","x":184,"y":218},{"s":"W","x":191,"y":222},
{"s":"Sp","x":1,"y":22},{"s":"Sp","x":2,"y":30},{"s":"Sp","x":3,"y":40},{"s":"Sp","x":4,"y":28},{"s":"Sp","x":5,"y":50},{"s":"Sp","x":6,"y":38},{"s":"Sp","x":7,"y":55},{"s":"Sp","x":8,"y":45},{"s":"Sp","x":9,"y":62},{"s":"Sp","x":10,"y":52},{"s":"Sp","x":11,"y":70},{"s":"Sp","x":12,"y":58},{"s":"Sp","x":13,"y":78},{"s":"Sp","x":14,"y":65},{"s":"Sp","x":15,"y":85},{"s":"Sp","x":16,"y":72},{"s":"Sp","x":17,"y":92},{"s":"Sp","x":18,"y":80},{"s":"Sp","x":19,"y":98},{"s":"Sp","x":20,"y":88},{"s":"Sp","x":21,"y":105},{"s":"Sp","x":22,"y":75},{"s":"Sp","x":23,"y":100},{"s":"Sp","x":24,"y":92},{"s":"Sp","x":25,"y":110},{"s":"Sp","x":26,"y":85},{"s":"Sp","x":27,"y":115},{"s":"Sp","x":28,"y":100},{"s":"Sp","x":29,"y":95},{"s":"Sp","x":30,"y":120},{"s":"Sp","x":31,"y":108},{"s":"Sp","x":33,"y":125},{"s":"Sp","x":34,"y":98},{"s":"Sp","x":35,"y":115},{"s":"Sp","x":36,"y":130},{"s":"Sp","x":38,"y":110},{"s":"Sp","x":39,"y":120},{"s":"Sp","x":40,"y":135},{"s":"Sp","x":42,"y":105},{"s":"Sp","x":43,"y":125},{"s":"Sp","x":45,"y":140},{"s":"Sp","x":46,"y":115},{"s":"Sp","x":48,"y":130},{"s":"Sp","x":49,"y":145},{"s":"Sp","x":51,"y":120},{"s":"Sp","x":52,"y":138},{"s":"Sp","x":54,"y":150},{"s":"Sp","x":56,"y":125},{"s":"Sp","x":58,"y":140},{"s":"Sp","x":60,"y":152},{"s":"Sp","x":62,"y":130},{"s":"Sp","x":63,"y":145},{"s":"Sp","x":65,"y":150},{"s":"Sp","x":67,"y":135},{"s":"Sp","x":68,"y":148},{"s":"Sp","x":70,"y":142},{"s":"Sp","x":72,"y":131},{"s":"Sp","x":82,"y":155},{"s":"Sp","x":85,"y":150},{"s":"Sp","x":88,"y":140},{"s":"Sp","x":90,"y":158},{"s":"Sp","x":92,"y":145},{"s":"Sp","x":95,"y":152},{"s":"Sp","x":98,"y":165},{"s":"Sp","x":100,"y":158},{"s":"Sp","x":102,"y":145},{"s":"Sp","x":105,"y":185},{"s":"Sp","x":108,"y":170},{"s":"Sp","x":110,"y":162},{"s":"Sp","x":112,"y":155},{"s":"Sp","x":115,"y":172},{"s":"Sp","x":118,"y":150},{"s":"Sp","x":120,"y":165},{"s":"Sp","x":123,"y":162},{"s":"Sp","x":125,"y":158},{"s":"Sp","x":138,"y":178},{"s":"Sp","x":140,"y":172},{"s":"Sp","x":146,"y":177},{"s":"Sp","x":185,"y":199},{"s":"Sp","x":191,"y":208},
{"s":"LS","x":1,"y":18},{"s":"LS","x":2,"y":25},{"s":"LS","x":4,"y":38},{"s":"LS","x":5,"y":30},{"s":"LS","x":7,"y":45},{"s":"LS","x":8,"y":28},{"s":"LS","x":10,"y":40},{"s":"LS","x":12,"y":52},{"s":"LS","x":14,"y":55},{"s":"LS","x":15,"y":35},{"s":"LS","x":17,"y":62},{"s":"LS","x":18,"y":45},{"s":"LS","x":20,"y":70},{"s":"LS","x":21,"y":50},{"s":"LS","x":22,"y":38},{"s":"LS","x":23,"y":69},{"s":"LS","x":25,"y":58},{"s":"LS","x":26,"y":75},{"s":"LS","x":28,"y":48},{"s":"LS","x":30,"y":83},{"s":"LS","x":31,"y":62},{"s":"LS","x":33,"y":50},{"s":"LS","x":34,"y":72},{"s":"LS","x":36,"y":90},{"s":"LS","x":38,"y":65},{"s":"LS","x":40,"y":98},{"s":"LS","x":41,"y":78},{"s":"LS","x":42,"y":55},{"s":"LS","x":43,"y":59},{"s":"LS","x":45,"y":85},{"s":"LS","x":46,"y":70},{"s":"LS","x":48,"y":95},{"s":"LS","x":49,"y":88},{"s":"LS","x":50,"y":65},{"s":"LS","x":51,"y":91},{"s":"LS","x":53,"y":55},{"s":"LS","x":54,"y":80},{"s":"LS","x":55,"y":100},{"s":"LS","x":57,"y":75},{"s":"LS","x":59,"y":98},{"s":"LS","x":60,"y":85},{"s":"LS","x":62,"y":110},{"s":"LS","x":63,"y":90},{"s":"LS","x":65,"y":78},{"s":"LS","x":66,"y":100},{"s":"LS","x":68,"y":88},{"s":"LS","x":70,"y":105},{"s":"LS","x":72,"y":117},{"s":"LS","x":73,"y":95},{"s":"LS","x":82,"y":93},{"s":"LS","x":85,"y":97},{"s":"LS","x":88,"y":108},{"s":"LS","x":91,"y":110},{"s":"LS","x":93,"y":120},{"s":"LS","x":95,"y":115},{"s":"LS","x":98,"y":124},{"s":"LS","x":100,"y":118},{"s":"LS","x":103,"y":130},{"s":"LS","x":106,"y":120},{"s":"LS","x":108,"y":131},{"s":"LS","x":110,"y":140},{"s":"LS","x":112,"y":125},{"s":"LS","x":115,"y":135},{"s":"LS","x":117,"y":122},{"s":"LS","x":120,"y":145},{"s":"LS","x":123,"y":148},{"s":"LS","x":125,"y":140},{"s":"LS","x":137,"y":163},{"s":"LS","x":139,"y":155},{"s":"LS","x":141,"y":148},{"s":"LS","x":143,"y":151},{"s":"LS","x":148,"y":146},{"s":"LS","x":181,"y":182},{"s":"LS","x":189,"y":182},
{"s":"DC","x":0,"y":0},{"s":"DC","x":1,"y":1},{"s":"DC","x":2,"y":2},{"s":"DC","x":3,"y":1},{"s":"DC","x":4,"y":3},{"s":"DC","x":5,"y":2},{"s":"DC","x":6,"y":4},{"s":"DC","x":7,"y":3},{"s":"DC","x":8,"y":5},{"s":"DC","x":9,"y":4},{"s":"DC","x":10,"y":6},{"s":"DC","x":11,"y":5},{"s":"DC","x":12,"y":7},{"s":"DC","x":13,"y":6},{"s":"DC","x":14,"y":8},{"s":"DC","x":15,"y":7},{"s":"DC","x":16,"y":9},{"s":"DC","x":17,"y":8},{"s":"DC","x":18,"y":10},{"s":"DC","x":19,"y":9},{"s":"DC","x":20,"y":11},{"s":"DC","x":22,"y":12},{"s":"DC","x":24,"y":13},{"s":"DC","x":26,"y":14},{"s":"DC","x":28,"y":15},{"s":"DC","x":30,"y":16},{"s":"DC","x":32,"y":17},{"s":"DC","x":34,"y":18},{"s":"DC","x":36,"y":20},{"s":"DC","x":38,"y":19},{"s":"DC","x":40,"y":21},{"s":"DC","x":42,"y":23},{"s":"DC","x":44,"y":22},{"s":"DC","x":46,"y":25},{"s":"DC","x":48,"y":26},{"s":"DC","x":50,"y":27},{"s":"DC","x":52,"y":26},{"s":"DC","x":54,"y":29},{"s":"DC","x":56,"y":30},{"s":"DC","x":58,"y":32},{"s":"DC","x":60,"y":31},{"s":"DC","x":62,"y":34},{"s":"DC","x":64,"y":35},{"s":"DC","x":66,"y":37},{"s":"DC","x":68,"y":38},{"s":"DC","x":70,"y":40},{"s":"DC","x":72,"y":38},{"s":"DC","x":74,"y":42},{"s":"DC","x":80,"y":50},{"s":"DC","x":82,"y":48},{"s":"DC","x":85,"y":52},{"s":"DC","x":86,"y":55},{"s":"DC","x":88,"y":50},{"s":"DC","x":90,"y":58},{"s":"DC","x":91,"y":62},{"s":"DC","x":93,"y":52},{"s":"DC","x":95,"y":60},{"s":"DC","x":98,"y":59},{"s":"DC","x":100,"y":65},{"s":"DC","x":102,"y":60},{"s":"DC","x":104,"y":76},{"s":"DC","x":105,"y":70},{"s":"DC","x":107,"y":62},{"s":"DC","x":110,"y":66},{"s":"DC","x":112,"y":72},{"s":"DC","x":114,"y":72},{"s":"DC","x":115,"y":62},{"s":"DC","x":117,"y":67},{"s":"DC","x":120,"y":75},{"s":"DC","x":122,"y":68},{"s":"DC","x":123,"y":76},{"s":"DC","x":125,"y":65},{"s":"DC","x":137,"y":88},{"s":"DC","x":138,"y":85},{"s":"DC","x":140,"y":90},{"s":"DC","x":143,"y":88},{"s":"DC","x":146,"y":98},{"s":"DC","x":147,"y":96},{"s":"DC","x":184,"y":124},{"s":"DC","x":191,"y":137}
]
},
"spacing": 25,
"vconcat": [
{"hconcat": [
  {"width": 247, "height": 164, "title": {"text": "a)", "dx": -68},
   "encoding": {
      "x": {"field": "x", "type": "quantitative", "scale": {"domain": [0, 0.8], "nice": false}, "axis": {"values": [0, 0.2, 0.4, 0.6, 0.8], "labelExpr": "format(datum.value, '.1f')", "title": "WSI S"}},
      "y": {"field": "y", "type": "quantitative", "scale": {"domain": [0, 1], "nice": false}, "axis": {"values": [0, 0.2, 0.4, 0.6, 0.8, 1], "labelExpr": "format(datum.value, '.1f')", "title": "WSI", "titlePadding": 15}}
   },
   "layer": [
    {"data": {"name": "a"}, "mark": {"type": "point", "opacity": 1, "strokeWidth": 0.8},
     "encoding": {
      "shape": {"field": "s", "type": "nominal", "scale": {"domain": ["W","Sp","LS","DC","1:1"], "range": ["triangle-down","triangle-up","circle","diamond","M-3,0H3"]}, "legend": null},
      "fill": {"field": "s", "type": "nominal", "scale": {"domain": ["W","Sp","LS","DC","1:1"], "range": ["#a8a8a8","#ffffff","#a3a3a3","#000000","transparent"]}, "legend": null},
      "stroke": {"field": "s", "type": "nominal", "scale": {"domain": ["W","Sp","LS","DC","1:1"], "range": ["#a8a8a8","#111111","#444444","#000000","#000000"]}, "legend": null},
      "size": {"field": "s", "type": "nominal", "scale": {"domain": ["W","Sp","LS","DC","1:1"], "range": [55,72,85,48,360]}, "legend": null}
     }},
    {"data": {"values": [{"x": 0, "y": 0}, {"x": 0.8, "y": 0.8}]}, "mark": {"type": "line", "color": "#000", "strokeWidth": 1.2}, "encoding": {}}
   ]},
  {"width": 240, "height": 160, "title": {"text": "b)", "dx": -72},
   "encoding": {
      "x": {"field": "x", "type": "quantitative", "scale": {"domain": [0, 300], "nice": false}, "axis": {"values": [0, 100, 200, 300], "title": "WDCPY S (mm)"}},
      "y": {"field": "y", "type": "quantitative", "scale": {"domain": [0, 300], "nice": false}, "axis": {"values": [0, 100, 200, 300], "title": "WDCPY (mm)"}}
   },
   "layer": [
    {"data": {"name": "b"}, "mark": {"type": "point", "opacity": 1, "strokeWidth": 0.8},
     "encoding": {
      "shape": {"field": "s", "type": "nominal", "scale": {"domain": ["W","Sp","LS","DC","1:1"], "range": ["triangle-down","triangle-up","circle","diamond","M-3,0H3"]}, "legend": null},
      "fill": {"field": "s", "type": "nominal", "scale": {"domain": ["W","Sp","LS","DC","1:1"], "range": ["#a8a8a8","#ffffff","#a3a3a3","#000000","transparent"]}, "legend": null},
      "stroke": {"field": "s", "type": "nominal", "scale": {"domain": ["W","Sp","LS","DC","1:1"], "range": ["#a8a8a8","#111111","#444444","#000000","#000000"]}, "legend": null},
      "size": {"field": "s", "type": "nominal", "scale": {"domain": ["W","Sp","LS","DC","1:1"], "range": [55,72,85,48,360]}, "legend": null}
     }},
    {"data": {"values": [{"x": 0, "y": 0}, {"x": 300, "y": 300}]}, "mark": {"type": "line", "color": "#000", "strokeWidth": 1.2}, "encoding": {}}
   ]},
  {"width": 230, "height": 163, "title": {"text": "c)", "dx": -68},
   "encoding": {
      "x": {"field": "x", "type": "quantitative", "scale": {"domain": [0, 223], "nice": false}, "axis": {"values": [0, 50, 100, 150, 200], "title": "AWCPY S (mm)"}},
      "y": {"field": "y", "type": "quantitative", "scale": {"domain": [0, 233], "nice": false}, "axis": {"values": [0, 50, 100, 150, 200], "title": "AWCPY (mm)"}}
   },
   "layer": [
    {"data": {"name": "c"}, "mark": {"type": "point", "opacity": 1, "strokeWidth": 0.8, "clip": true},
     "encoding": {
      "shape": {"field": "s", "type": "nominal", "scale": {"domain": ["W","Sp","LS","DC","1:1"], "range": ["triangle-down","triangle-up","circle","diamond","M-3,0H3"]}, "legend": null},
      "fill": {"field": "s", "type": "nominal", "scale": {"domain": ["W","Sp","LS","DC","1:1"], "range": ["#a8a8a8","#ffffff","#a3a3a3","#000000","transparent"]}, "legend": null},
      "stroke": {"field": "s", "type": "nominal", "scale": {"domain": ["W","Sp","LS","DC","1:1"], "range": ["#a8a8a8","#111111","#444444","#000000","#000000"]}, "legend": null},
      "size": {"field": "s", "type": "nominal", "scale": {"domain": ["W","Sp","LS","DC","1:1"], "range": [55,72,85,48,360]}, "legend": null}
     }},
    {"data": {"values": [{"x": 0, "y": 0}, {"x": 223, "y": 223}]}, "mark": {"type": "line", "color": "#000", "strokeWidth": 1.2, "clip": true}, "encoding": {}}
   ]}
 ], "spacing": 94, "bounds": "flush"},
{"hconcat": [
  {"width": 246, "height": 164, "title": {"text": "d)", "dx": -66},
   "encoding": {
      "x": {"field": "x", "type": "quantitative", "scale": {"domain": [0, 200], "nice": false}, "axis": {"values": [0, 50, 100, 150, 200], "title": "Dr S (mm)"}},
      "y": {"field": "y", "type": "quantitative", "scale": {"domain": [0, 200], "nice": false}, "axis": {"values": [0, 50, 100, 150, 200], "title": "Dr (mm)", "titlePadding": 10}}
   },
   "layer": [
    {"data": {"name": "d"}, "mark": {"type": "point", "opacity": 1, "strokeWidth": 0.8},
     "encoding": {
      "shape": {"field": "s", "type": "nominal", "scale": {"domain": ["W","Sp","LS","DC","1:1"], "range": ["triangle-down","triangle-up","circle","diamond","M-3,0H3"]}, "legend": null},
      "fill": {"field": "s", "type": "nominal", "scale": {"domain": ["W","Sp","LS","DC","1:1"], "range": ["#a8a8a8","#ffffff","#a3a3a3","#000000","transparent"]}, "legend": null},
      "stroke": {"field": "s", "type": "nominal", "scale": {"domain": ["W","Sp","LS","DC","1:1"], "range": ["#a8a8a8","#111111","#444444","#000000","#000000"]}, "legend": null},
      "size": {"field": "s", "type": "nominal", "scale": {"domain": ["W","Sp","LS","DC","1:1"], "range": [55,72,85,48,360]}, "legend": null}
     }},
    {"data": {"values": [{"x": 0, "y": 0}, {"x": 150, "y": 150}]}, "mark": {"type": "line", "color": "#000", "strokeWidth": 1.2}, "encoding": {}}
   ]},
  {"width": 244, "height": 163, "title": {"text": "e)", "dx": -69},
   "encoding": {
      "x": {"field": "x", "type": "quantitative", "scale": {"domain": [0, 236], "nice": false}, "axis": {"values": [0, 50, 100, 150, 200], "title": "AWres (mm)"}},
      "y": {"field": "y", "type": "quantitative", "scale": {"domain": [0, 235], "nice": false}, "axis": {"values": [0, 50, 100, 150, 200], "title": "AWres (mm)"}}
   },
   "layer": [
    {"data": {"name": "e"}, "mark": {"type": "point", "opacity": 1, "strokeWidth": 0.8},
     "encoding": {
      "shape": {"field": "s", "type": "nominal", "scale": {"domain": ["W","Sp","LS","DC","1:1"], "range": ["triangle-down","triangle-up","circle","diamond","M-3,0H3"]}, "legend": null},
      "fill": {"field": "s", "type": "nominal", "scale": {"domain": ["W","Sp","LS","DC","1:1"], "range": ["#a8a8a8","#ffffff","#a3a3a3","#000000","transparent"]}, "legend": null},
      "stroke": {"field": "s", "type": "nominal", "scale": {"domain": ["W","Sp","LS","DC","1:1"], "range": ["#a8a8a8","#111111","#444444","#000000","#000000"]}, "legend": null},
      "size": {"field": "s", "type": "nominal", "scale": {"domain": ["W","Sp","LS","DC","1:1"], "range": [55,72,85,48,360]}, "legend": null}
     }},
    {"data": {"values": [{"x": 0, "y": 0}, {"x": 235, "y": 235}]}, "mark": {"type": "line", "color": "#000", "strokeWidth": 1.2}, "encoding": {}}
   ]},
  {"width": 45, "height": 164,
   "data": {"values": [{"s": "W", "k": 1}, {"s": "Sp", "k": 2}, {"s": "LS", "k": 3}, {"s": "DC", "k": 4}, {"s": "1:1", "k": 5}]},
   "encoding": {"y": {"field": "k", "type": "quantitative", "scale": {"domain": [0.671, 5.686], "reverse": true, "nice": false, "zero": false}, "axis": null}},
   "layer": [
    {"mark": {"type": "point", "opacity": 1, "strokeWidth": 1.6},
     "encoding": {
      "shape": {"field": "s", "type": "nominal", "scale": {"domain": ["W","Sp","LS","DC","1:1"], "range": ["triangle-down","triangle-up","circle","diamond","M-3,0H3"]}, "legend": null},
      "fill": {"field": "s", "type": "nominal", "scale": {"domain": ["W","Sp","LS","DC","1:1"], "range": ["#a8a8a8","#ffffff","#a3a3a3","#000000","transparent"]}, "legend": null},
      "stroke": {"field": "s", "type": "nominal", "scale": {"domain": ["W","Sp","LS","DC","1:1"], "range": ["#a8a8a8","#111111","#444444","#000000","#000000"]}, "legend": null},
      "size": {"field": "s", "type": "nominal", "scale": {"domain": ["W","Sp","LS","DC","1:1"], "range": [55,72,85,48,300]}, "legend": null}
     }},
    {"mark": {"type": "text", "align": "left", "baseline": "middle", "dx": 20, "fontSize": 21, "font": "Liberation Sans", "color": "#1a1a1a"},
     "encoding": {"text": {"field": "s", "type": "nominal"}}}
   ]}
 ], "spacing": 93, "bounds": "flush"}
]
}
